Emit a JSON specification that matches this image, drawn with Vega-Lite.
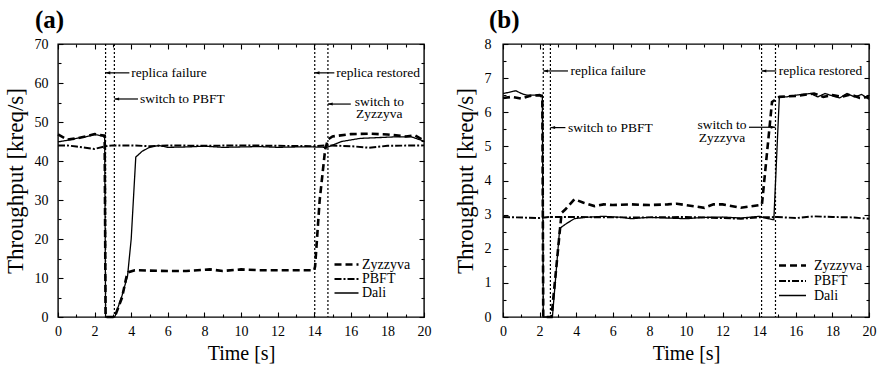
{
  "$schema": "https://vega.github.io/schema/vega-lite/v6.json",
  "padding": {"left": 3, "top": 7, "right": 12, "bottom": 0},
  "spacing": 21,
  "resolve": {"scale": {"strokeDash": "independent", "strokeWidth": "independent"}, "legend": {"strokeDash": "independent", "strokeWidth": "independent"}},
  "config": {
    "font": "'Liberation Serif', 'DejaVu Serif', serif",
    "view": {"stroke": "black", "strokeWidth": 1.4},
    "axis": {"domain": false, "grid": false, "tickColor": "black", "tickWidth": 1.1, "labelFont": "'Liberation Serif', 'DejaVu Serif', serif", "labelFontSize": 14, "labelColor": "black", "titleFont": "'Liberation Serif', 'DejaVu Serif', serif", "titleFontWeight": "normal", "titleColor": "black", "labelFlush": false, "labelOverlap": false},
    "legend": {"labelFont": "'Liberation Serif', 'DejaVu Serif', serif"},
    "title": {"font": "'Liberation Serif', 'DejaVu Serif', serif"},
    "text": {"font": "'Liberation Serif', 'DejaVu Serif', serif"}
  },
  "datasets": {
    "a_lines": [
      {"t":0,"v":46.8,"s":"Zyzzyva"},{"t":0.5,"v":45.5,"s":"Zyzzyva"},{"t":1,"v":45.8,"s":"Zyzzyva"},{"t":1.5,"v":46.3,"s":"Zyzzyva"},{"t":2,"v":46.9,"s":"Zyzzyva"},{"t":2.55,"v":46.5,"s":"Zyzzyva"},{"t":2.6,"v":0,"s":"Zyzzyva"},{"t":3.1,"v":0,"s":"Zyzzyva"},{"t":3.5,"v":5,"s":"Zyzzyva"},{"t":3.75,"v":10.5,"s":"Zyzzyva"},{"t":3.85,"v":11.5,"s":"Zyzzyva"},{"t":4.2,"v":12,"s":"Zyzzyva"},{"t":5,"v":11.9,"s":"Zyzzyva"},{"t":6,"v":11.8,"s":"Zyzzyva"},{"t":7,"v":11.8,"s":"Zyzzyva"},{"t":8,"v":12.1,"s":"Zyzzyva"},{"t":8.3,"v":12.2,"s":"Zyzzyva"},{"t":9,"v":11.8,"s":"Zyzzyva"},{"t":10,"v":12.2,"s":"Zyzzyva"},{"t":11,"v":12,"s":"Zyzzyva"},{"t":12,"v":12,"s":"Zyzzyva"},{"t":13,"v":12,"s":"Zyzzyva"},{"t":14,"v":12,"s":"Zyzzyva"},{"t":14.05,"v":13,"s":"Zyzzyva"},{"t":14.3,"v":30,"s":"Zyzzyva"},{"t":14.6,"v":43,"s":"Zyzzyva"},{"t":14.75,"v":45.5,"s":"Zyzzyva"},{"t":15,"v":46.3,"s":"Zyzzyva"},{"t":16,"v":46.9,"s":"Zyzzyva"},{"t":17,"v":47,"s":"Zyzzyva"},{"t":18,"v":46.8,"s":"Zyzzyva"},{"t":19,"v":46.3,"s":"Zyzzyva"},{"t":19.5,"v":46.6,"s":"Zyzzyva"},{"t":20,"v":45.2,"s":"Zyzzyva"},
      {"t":0,"v":44,"s":"PBFT"},{"t":0.5,"v":44,"s":"PBFT"},{"t":1,"v":43.7,"s":"PBFT"},{"t":1.5,"v":43.4,"s":"PBFT"},{"t":2,"v":43.1,"s":"PBFT"},{"t":2.6,"v":43.8,"s":"PBFT"},{"t":3,"v":44,"s":"PBFT"},{"t":4,"v":44,"s":"PBFT"},{"t":5,"v":43.8,"s":"PBFT"},{"t":6,"v":44,"s":"PBFT"},{"t":8,"v":43.9,"s":"PBFT"},{"t":10,"v":44,"s":"PBFT"},{"t":12,"v":43.9,"s":"PBFT"},{"t":14,"v":43.8,"s":"PBFT"},{"t":14.7,"v":44,"s":"PBFT"},{"t":16,"v":43.8,"s":"PBFT"},{"t":17,"v":43.4,"s":"PBFT"},{"t":18,"v":43.9,"s":"PBFT"},{"t":20,"v":44,"s":"PBFT"},
      {"t":0,"v":44.9,"s":"Dali"},{"t":0.5,"v":45.3,"s":"Dali"},{"t":1,"v":45.8,"s":"Dali"},{"t":1.5,"v":46.2,"s":"Dali"},{"t":2,"v":46.8,"s":"Dali"},{"t":2.55,"v":46.3,"s":"Dali"},{"t":2.6,"v":0,"s":"Dali"},{"t":3.1,"v":0,"s":"Dali"},{"t":3.5,"v":5.5,"s":"Dali"},{"t":3.8,"v":10.5,"s":"Dali"},{"t":4,"v":20,"s":"Dali"},{"t":4.25,"v":41,"s":"Dali"},{"t":4.6,"v":42.5,"s":"Dali"},{"t":5,"v":43.5,"s":"Dali"},{"t":5.5,"v":44,"s":"Dali"},{"t":6,"v":43.5,"s":"Dali"},{"t":7,"v":43.6,"s":"Dali"},{"t":8,"v":43.8,"s":"Dali"},{"t":9,"v":43.5,"s":"Dali"},{"t":10,"v":43.6,"s":"Dali"},{"t":11,"v":43.7,"s":"Dali"},{"t":12,"v":43.5,"s":"Dali"},{"t":13,"v":43.6,"s":"Dali"},{"t":14,"v":43.6,"s":"Dali"},{"t":14.7,"v":43.5,"s":"Dali"},{"t":15.5,"v":45,"s":"Dali"},{"t":16.5,"v":45.8,"s":"Dali"},{"t":17.5,"v":46,"s":"Dali"},{"t":18.5,"v":46.2,"s":"Dali"},{"t":19.3,"v":46.2,"s":"Dali"},{"t":20,"v":45.1,"s":"Dali"}
    ],
    "b_lines": [
      {"t":0,"v":6.42,"s":"Zyzzyva"},{"t":0.5,"v":6.45,"s":"Zyzzyva"},{"t":1,"v":6.4,"s":"Zyzzyva"},{"t":1.5,"v":6.48,"s":"Zyzzyva"},{"t":2,"v":6.5,"s":"Zyzzyva"},{"t":2.15,"v":6.45,"s":"Zyzzyva"},{"t":2.2,"v":0,"s":"Zyzzyva"},{"t":2.65,"v":0,"s":"Zyzzyva"},{"t":3.2,"v":3.05,"s":"Zyzzyva"},{"t":3.4,"v":3.15,"s":"Zyzzyva"},{"t":3.9,"v":3.45,"s":"Zyzzyva"},{"t":4.4,"v":3.35,"s":"Zyzzyva"},{"t":5,"v":3.25,"s":"Zyzzyva"},{"t":5.5,"v":3.3,"s":"Zyzzyva"},{"t":6,"v":3.28,"s":"Zyzzyva"},{"t":7,"v":3.3,"s":"Zyzzyva"},{"t":8,"v":3.28,"s":"Zyzzyva"},{"t":9,"v":3.3,"s":"Zyzzyva"},{"t":9.5,"v":3.32,"s":"Zyzzyva"},{"t":10,"v":3.28,"s":"Zyzzyva"},{"t":11,"v":3.2,"s":"Zyzzyva"},{"t":11.5,"v":3.3,"s":"Zyzzyva"},{"t":12,"v":3.3,"s":"Zyzzyva"},{"t":13,"v":3.2,"s":"Zyzzyva"},{"t":14,"v":3.28,"s":"Zyzzyva"},{"t":14.15,"v":3.3,"s":"Zyzzyva"},{"t":14.7,"v":6.3,"s":"Zyzzyva"},{"t":15.1,"v":6.45,"s":"Zyzzyva"},{"t":16,"v":6.48,"s":"Zyzzyva"},{"t":17,"v":6.55,"s":"Zyzzyva"},{"t":17.5,"v":6.45,"s":"Zyzzyva"},{"t":18,"v":6.5,"s":"Zyzzyva"},{"t":18.5,"v":6.45,"s":"Zyzzyva"},{"t":19,"v":6.52,"s":"Zyzzyva"},{"t":19.5,"v":6.42,"s":"Zyzzyva"},{"t":20,"v":6.45,"s":"Zyzzyva"},
      {"t":0,"v":2.93,"s":"PBFT"},{"t":2,"v":2.9,"s":"PBFT"},{"t":2.5,"v":2.93,"s":"PBFT"},{"t":4,"v":2.93,"s":"PBFT"},{"t":6,"v":2.92,"s":"PBFT"},{"t":8,"v":2.92,"s":"PBFT"},{"t":10,"v":2.93,"s":"PBFT"},{"t":12,"v":2.9,"s":"PBFT"},{"t":13,"v":2.88,"s":"PBFT"},{"t":14,"v":2.92,"s":"PBFT"},{"t":15,"v":2.93,"s":"PBFT"},{"t":16,"v":2.9,"s":"PBFT"},{"t":17,"v":2.95,"s":"PBFT"},{"t":18,"v":2.93,"s":"PBFT"},{"t":19,"v":2.92,"s":"PBFT"},{"t":20,"v":2.88,"s":"PBFT"},
      {"t":0,"v":6.55,"s":"Dali"},{"t":0.3,"v":6.58,"s":"Dali"},{"t":0.7,"v":6.63,"s":"Dali"},{"t":1,"v":6.55,"s":"Dali"},{"t":1.3,"v":6.5,"s":"Dali"},{"t":1.8,"v":6.5,"s":"Dali"},{"t":2.15,"v":6.5,"s":"Dali"},{"t":2.2,"v":0,"s":"Dali"},{"t":2.7,"v":0,"s":"Dali"},{"t":3.1,"v":2.6,"s":"Dali"},{"t":3.5,"v":2.75,"s":"Dali"},{"t":3.9,"v":2.88,"s":"Dali"},{"t":4.5,"v":2.92,"s":"Dali"},{"t":5.5,"v":2.95,"s":"Dali"},{"t":6.5,"v":2.92,"s":"Dali"},{"t":7,"v":2.88,"s":"Dali"},{"t":8,"v":2.92,"s":"Dali"},{"t":9,"v":2.9,"s":"Dali"},{"t":10,"v":2.88,"s":"Dali"},{"t":11,"v":2.92,"s":"Dali"},{"t":12,"v":2.93,"s":"Dali"},{"t":13,"v":2.9,"s":"Dali"},{"t":14,"v":2.95,"s":"Dali"},{"t":14.5,"v":2.88,"s":"Dali"},{"t":14.8,"v":2.85,"s":"Dali"},{"t":15.1,"v":6.45,"s":"Dali"},{"t":15.5,"v":6.45,"s":"Dali"},{"t":16,"v":6.5,"s":"Dali"},{"t":16.8,"v":6.55,"s":"Dali"},{"t":17.2,"v":6.45,"s":"Dali"},{"t":17.6,"v":6.55,"s":"Dali"},{"t":18,"v":6.48,"s":"Dali"},{"t":18.4,"v":6.42,"s":"Dali"},{"t":18.8,"v":6.55,"s":"Dali"},{"t":19.2,"v":6.45,"s":"Dali"},{"t":19.6,"v":6.52,"s":"Dali"},{"t":20,"v":6.38,"s":"Dali"}
    ],
    "a_notes": [
      {"label":"replica failure","tip":2.6,"tail":3.9,"y":62.6,"dir":"left"},
      {"label":"switch to PBFT","tip":3.08,"tail":4.37,"y":55.9,"dir":"left"},
      {"label":"replica restored","tip":14.03,"tail":15.1,"y":62.6,"dir":"left"},
      {"label":"switch to\nZyzzyva","tip":14.75,"tail":16.0,"y":54.6,"dir":"left","label_t":17.56,"label_v":55.2}
    ],
    "b_notes": [
      {"label":"replica failure","tip":2.2,"tail":3.55,"y":7.21,"dir":"left"},
      {"label":"switch to PBFT","tip":2.59,"tail":3.41,"y":5.55,"dir":"left"},
      {"label":"replica restored","tip":14.13,"tail":14.93,"y":7.21,"dir":"left"},
      {"label":"switch to\nZyzzyva","tip":14.89,"tail":13.44,"y":5.56,"dir":"right","label_t":11.97,"label_v":5.62}
    ]
  },
  "hconcat": [
    {
      "width": 366,
      "height": 273,
      "title": {"text": "(a)", "anchor": "start", "frame": "group", "dx": -23, "offset": 4, "fontSize": 25, "fontWeight": "bold", "color": "black"},
      "resolve": {"axis": {"x": "independent", "y": "independent"}},
      "layer": [
        {
          "data": {"name": "a_lines"},
          "mark": {"type": "line", "color": "black"},
          "encoding": {
            "x": {"field": "t", "type": "quantitative", "scale": {"domain": [0, 20], "nice": false},
                  "axis": {"orient": "bottom", "values": [0,2,4,6,8,10,12,14,16,18,20], "ticks": false, "tickSize": 0, "labelPadding": 7, "title": "Time [s]", "titleFontSize": 20, "titlePadding": 5}},
            "y": {"field": "v", "type": "quantitative", "scale": {"domain": [0, 70], "nice": false},
                  "axis": {"orient": "left", "values": [0,10,20,30,40,50,60,70], "ticks": false, "tickSize": 0, "labelPadding": 10, "title": "Throughput [kreq/s]", "titleFontSize": 23, "titlePadding": 7}},
            "strokeDash": {"field": "s", "type": "nominal", "scale": {"domain": ["Zyzzyva", "PBFT", "Dali"], "range": [[7, 4], [7, 2, 2, 2], [1, 0]]},
                  "legend": {"title": null, "orient": "none", "legendX": 281, "legendY": 213, "symbolType": "M-2,0L2,0", "symbolSize": 144, "labelFontSize": 14, "labelColor": "black", "labelOffset": 8, "rowPadding": 0, "padding": 0}},
            "strokeWidth": {"field": "s", "type": "nominal", "scale": {"domain": ["Zyzzyva", "PBFT", "Dali"], "range": [2.6, 1.3, 1.5]},
                  "legend": {"title": null, "orient": "none", "legendX": 281, "legendY": 213, "symbolType": "M-2,0L2,0", "symbolSize": 144, "labelFontSize": 14, "labelColor": "black", "labelOffset": 8, "rowPadding": 0, "padding": 0}}
          }
        },
        {
          "data": {"name": "a_notes"},
          "mark": {"type": "rule", "strokeDash": [2, 2], "strokeWidth": 1.2, "color": "black"},
          "encoding": {
            "x": {"field": "tip", "type": "quantitative", "scale": {"domain": [0, 20], "nice": false},
                  "axis": {"orient": "bottom", "values": [0,2,4,6,8,10,12,14,16,18,20], "labels": false, "tickSize": -5, "title": null}}
          }
        },
        {
          "data": {"name": "a_notes"},
          "mark": {"type": "rule", "strokeWidth": 1.2, "color": "black"},
          "encoding": {
            "x": {"field": "tip", "type": "quantitative", "scale": {"domain": [0, 20], "nice": false},
                  "axis": {"orient": "bottom", "values": [1,3,5,7,9,11,13,15,17,19], "labels": false, "tickSize": -3, "title": null}},
            "x2": {"field": "tail"},
            "y": {"field": "y", "type": "quantitative", "scale": {"domain": [0, 70], "nice": false},
                  "axis": {"orient": "left", "values": [0,10,20,30,40,50,60,70], "labels": false, "tickSize": -5, "title": null}}
          }
        },
        {
          "data": {"name": "a_notes"},
          "mark": {"type": "point", "filled": true, "color": "black", "opacity": 1, "size": 90, "strokeWidth": 0},
          "encoding": {
            "x": {"field": "tip", "type": "quantitative", "scale": {"domain": [0, 20], "nice": false},
                  "axis": {"orient": "top", "values": [0,2,4,6,8,10,12,14,16,18,20], "labels": false, "tickSize": -5, "title": null}},
            "y": {"field": "y", "type": "quantitative", "scale": {"domain": [0, 70], "nice": false},
                  "axis": {"orient": "left", "values": [5,15,25,35,45,55,65], "labels": false, "tickSize": -3, "title": null}},
            "shape": {"field": "dir", "type": "nominal", "scale": {"domain": ["left", "right"], "range": ["M0,0L1,-0.32L1,0.32Z", "M0,0L-1,-0.32L-1,0.32Z"]}, "legend": null}
          }
        },
        {
          "data": {"name": "a_notes"},
          "transform": [{"filter": "!isValid(datum.label_t)"}],
          "mark": {"type": "text", "align": "left", "baseline": "middle", "dx": 2, "fontSize": 13.5, "color": "black"},
          "encoding": {
            "x": {"field": "tail", "type": "quantitative", "scale": {"domain": [0, 20], "nice": false},
                  "axis": {"orient": "top", "values": [1,3,5,7,9,11,13,15,17,19], "labels": false, "tickSize": -3, "title": null}},
            "y": {"field": "y", "type": "quantitative", "scale": {"domain": [0, 70], "nice": false},
                  "axis": {"orient": "right", "values": [0,10,20,30,40,50,60,70], "labels": false, "tickSize": -5, "title": null}},
            "text": {"field": "label"}
          }
        },
        {
          "data": {"name": "a_notes"},
          "transform": [{"filter": "isValid(datum.label_t)"}],
          "mark": {"type": "text", "align": "center", "baseline": "middle", "lineBreak": "\n", "lineHeight": 12.5, "fontSize": 13.5, "color": "black"},
          "encoding": {
            "x": {"field": "label_t", "type": "quantitative", "scale": {"domain": [0, 20], "nice": false}, "axis": null},
            "y": {"field": "label_v", "type": "quantitative", "scale": {"domain": [0, 70], "nice": false},
                  "axis": {"orient": "right", "values": [5,15,25,35,45,55,65], "labels": false, "tickSize": -3, "title": null}},
            "text": {"field": "label"}
          }
        }
      ]
    },
    {
      "width": 366,
      "height": 273,
      "title": {"text": "(b)", "anchor": "start", "frame": "group", "dx": -14, "offset": 4, "fontSize": 25, "fontWeight": "bold", "color": "black"},
      "resolve": {"axis": {"x": "independent", "y": "independent"}},
      "layer": [
        {
          "data": {"name": "b_lines"},
          "mark": {"type": "line", "color": "black"},
          "encoding": {
            "x": {"field": "t", "type": "quantitative", "scale": {"domain": [0, 20], "nice": false},
                  "axis": {"orient": "bottom", "values": [0,2,4,6,8,10,12,14,16,18,20], "ticks": false, "tickSize": 0, "labelPadding": 7, "title": "Time [s]", "titleFontSize": 20, "titlePadding": 5}},
            "y": {"field": "v", "type": "quantitative", "scale": {"domain": [0, 8], "nice": false},
                  "axis": {"orient": "left", "values": [0,1,2,3,4,5,6,7,8], "ticks": false, "tickSize": 0, "labelPadding": 12, "title": "Throughput [kreq/s]", "titleFontSize": 23, "titlePadding": 7}},
            "strokeDash": {"field": "s", "type": "nominal", "scale": {"domain": ["Zyzzyva", "PBFT", "Dali"], "range": [[7, 4], [7, 2, 2, 2], [1, 0]]},
                  "legend": {"title": null, "orient": "none", "legendX": 281, "legendY": 213, "symbolType": "M-2,0L2,0", "symbolSize": 182, "labelFontSize": 14, "labelColor": "black", "labelOffset": 13, "rowPadding": 0, "padding": 0}},
            "strokeWidth": {"field": "s", "type": "nominal", "scale": {"domain": ["Zyzzyva", "PBFT", "Dali"], "range": [2.6, 1.3, 1.5]},
                  "legend": {"title": null, "orient": "none", "legendX": 281, "legendY": 213, "symbolType": "M-2,0L2,0", "symbolSize": 182, "labelFontSize": 14, "labelColor": "black", "labelOffset": 13, "rowPadding": 0, "padding": 0}}
          }
        },
        {
          "data": {"name": "b_notes"},
          "mark": {"type": "rule", "strokeDash": [2, 2], "strokeWidth": 1.2, "color": "black"},
          "encoding": {
            "x": {"field": "tip", "type": "quantitative", "scale": {"domain": [0, 20], "nice": false},
                  "axis": {"orient": "bottom", "values": [0,2,4,6,8,10,12,14,16,18,20], "labels": false, "tickSize": -5, "title": null}}
          }
        },
        {
          "data": {"name": "b_notes"},
          "mark": {"type": "rule", "strokeWidth": 1.2, "color": "black"},
          "encoding": {
            "x": {"field": "tip", "type": "quantitative", "scale": {"domain": [0, 20], "nice": false},
                  "axis": {"orient": "bottom", "values": [1,3,5,7,9,11,13,15,17,19], "labels": false, "tickSize": -3, "title": null}},
            "x2": {"field": "tail"},
            "y": {"field": "y", "type": "quantitative", "scale": {"domain": [0, 8], "nice": false},
                  "axis": {"orient": "left", "values": [0,1,2,3,4,5,6,7,8], "labels": false, "tickSize": -5, "title": null}}
          }
        },
        {
          "data": {"name": "b_notes"},
          "mark": {"type": "point", "filled": true, "color": "black", "opacity": 1, "size": 90, "strokeWidth": 0},
          "encoding": {
            "x": {"field": "tip", "type": "quantitative", "scale": {"domain": [0, 20], "nice": false},
                  "axis": {"orient": "top", "values": [0,2,4,6,8,10,12,14,16,18,20], "labels": false, "tickSize": -5, "title": null}},
            "y": {"field": "y", "type": "quantitative", "scale": {"domain": [0, 8], "nice": false},
                  "axis": {"orient": "left", "values": [0.5,1.5,2.5,3.5,4.5,5.5,6.5,7.5], "labels": false, "tickSize": -3, "title": null}},
            "shape": {"field": "dir", "type": "nominal", "scale": {"domain": ["left", "right"], "range": ["M0,0L1,-0.32L1,0.32Z", "M0,0L-1,-0.32L-1,0.32Z"]}, "legend": null}
          }
        },
        {
          "data": {"name": "b_notes"},
          "transform": [{"filter": "!isValid(datum.label_t)"}],
          "mark": {"type": "text", "align": "left", "baseline": "middle", "dx": 2.5, "fontSize": 13.5, "color": "black"},
          "encoding": {
            "x": {"field": "tail", "type": "quantitative", "scale": {"domain": [0, 20], "nice": false},
                  "axis": {"orient": "top", "values": [1,3,5,7,9,11,13,15,17,19], "labels": false, "tickSize": -3, "title": null}},
            "y": {"field": "y", "type": "quantitative", "scale": {"domain": [0, 8], "nice": false},
                  "axis": {"orient": "right", "values": [0,1,2,3,4,5,6,7,8], "labels": false, "tickSize": -5, "title": null}},
            "text": {"field": "label"}
          }
        },
        {
          "data": {"name": "b_notes"},
          "transform": [{"filter": "isValid(datum.label_t)"}],
          "mark": {"type": "text", "align": "center", "baseline": "middle", "lineBreak": "\n", "lineHeight": 12.5, "fontSize": 13.5, "color": "black"},
          "encoding": {
            "x": {"field": "label_t", "type": "quantitative", "scale": {"domain": [0, 20], "nice": false}, "axis": null},
            "y": {"field": "label_v", "type": "quantitative", "scale": {"domain": [0, 8], "nice": false},
                  "axis": {"orient": "right", "values": [0.5,1.5,2.5,3.5,4.5,5.5,6.5,7.5], "labels": false, "tickSize": -3, "title": null}},
            "text": {"field": "label"}
          }
        }
      ]
    }
  ]
}
